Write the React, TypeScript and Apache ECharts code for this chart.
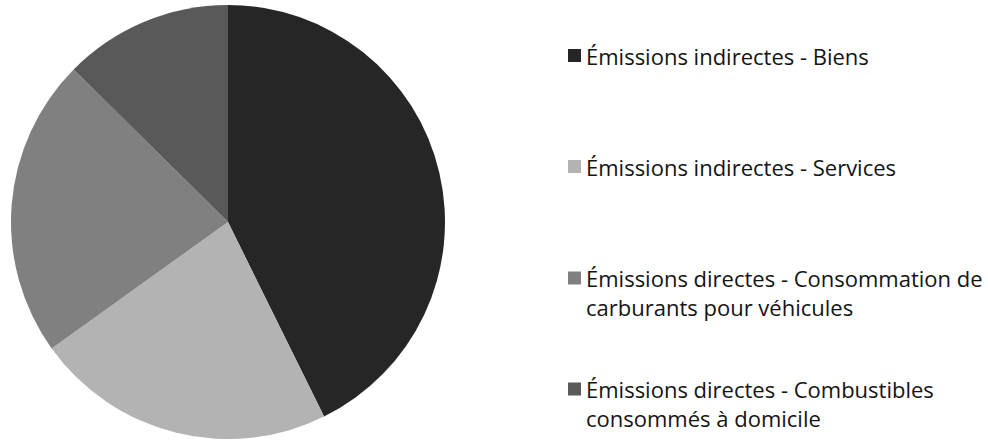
import React, { useEffect, useRef } from "react";
import * as echarts from "echarts";

const categories = [
  "Émissions indirectes - Biens",
  "Émissions indirectes - Services",
  "Émissions directes - Consommation de carburants pour véhicules",
  "Émissions directes - Combustibles consommés à domicile",
];
const legendLabels = [
  "Émissions indirectes - Biens",
  "Émissions indirectes - Services",
  "Émissions directes - Consommation de\ncarburants pour véhicules",
  "Émissions directes - Combustibles\nconsommés à domicile",
];
const values = [42.7, 22.4, 22.3, 12.6];
const colors = ["#262626", "#b3b3b3", "#808080", "#595959"];

const FONT = "'Open Sans', sans-serif";
const FS = 22;
const LH = 29;
const iconCenters = [55.5, 166.5, 278, 389];

export default function App() {
  const ref = useRef<HTMLDivElement>(null);
  useEffect(() => {
    if (!ref.current) return;
    const chart = echarts.init(ref.current, undefined, { renderer: "svg" });
    const legends = categories.map((name, i) => {
      const twoLines = legendLabels[i].includes("\n");
      return {
        show: true,
        data: [name],
        left: 568,
        top: twoLines ? iconCenters[i] - 1.5 * LH : iconCenters[i] - LH / 2,
        padding: 0,
        orient: "vertical" as const,
        icon: "rect",
        itemWidth: 13,
        itemHeight: 13,
        selectedMode: false,
        formatter: () => (twoLines ? " \n" + legendLabels[i] : legendLabels[i]),
        textStyle: {
          fontFamily: FONT,
          fontSize: FS,
          lineHeight: LH,
          color: "#141414",
        },
      };
    });
    chart.setOption({
      animation: false,
      backgroundColor: "#ffffff",
      legend: legends,
      series: [
        {
          type: "pie",
          center: [228, 222],
          radius: 217,
          startAngle: 90,
          clockwise: true,
          label: { show: false },
          labelLine: { show: false },
          emphasis: { disabled: true },
          itemStyle: { borderWidth: 0 },
          data: categories.map((name, i) => ({
            name,
            value: values[i],
            itemStyle: { color: colors[i] },
          })),
        },
      ],
    });
    return () => chart.dispose();
  }, []);
  return (
    <div
      ref={ref}
      style={{ position: "fixed", left: 0, top: 0, width: 988, height: 440 }}
    />
  );
}
